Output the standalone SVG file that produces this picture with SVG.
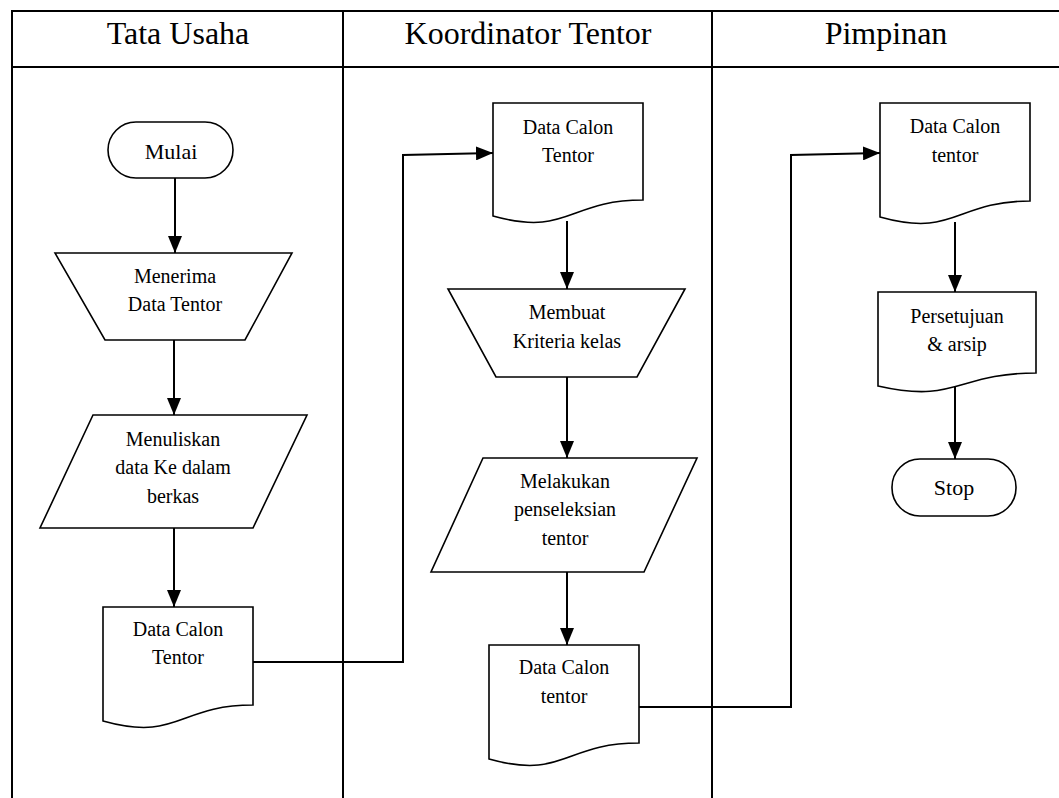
<svg xmlns="http://www.w3.org/2000/svg" width="1059" height="798" viewBox="0 0 1059 798">
<defs>
<marker id="ah" markerUnits="userSpaceOnUse" markerWidth="18" markerHeight="14" refX="17" refY="7" orient="auto">
<path d="M0,0 L17,7 L0,14 Z" fill="#000"/>
</marker>
<style>
.tbl{stroke:#000;stroke-width:2;fill:none}
.shape{fill:#fff;stroke:#000;stroke-width:1.6;stroke-linejoin:miter}
.conn{fill:none;stroke:#000;stroke-width:2;marker-end:url(#ah)}
.hd{font-family:"Liberation Serif","Times New Roman",serif;font-size:32px;text-anchor:middle;fill:#000}
.tx{font-family:"Liberation Serif","Times New Roman",serif;font-size:20px;text-anchor:middle;fill:#000}
.tt{font-family:"Liberation Serif","Times New Roman",serif;font-size:22px;text-anchor:middle;fill:#000}
</style>
</defs>
<rect width="1059" height="798" fill="#fff"/>
<g id="table">
<line class="tbl" x1="12" y1="11" x2="1059" y2="11"/>
<line class="tbl" x1="12" y1="67" x2="1059" y2="67"/>
<line class="tbl" x1="12" y1="10" x2="12" y2="798"/>
<line class="tbl" x1="343" y1="11" x2="343" y2="798"/>
<line class="tbl" x1="712" y1="11" x2="712" y2="798"/>
<text class="hd" x="178" y="44">Tata Usaha</text>
<text class="hd" x="528" y="44">Koordinator Tentor</text>
<text class="hd" x="886" y="44">Pimpinan</text>
</g>
<g id="connectors">
<line class="conn" x1="175" y1="178" x2="175" y2="253"/>
<line class="conn" x1="174" y1="340" x2="174" y2="415"/>
<line class="conn" x1="174" y1="528" x2="174" y2="607"/>
<path class="conn" d="M253,662 H403 V155 L493,153"/>
<line class="conn" x1="567" y1="221" x2="567" y2="289"/>
<line class="conn" x1="567" y1="377" x2="567" y2="458"/>
<line class="conn" x1="567" y1="572" x2="567" y2="645"/>
<path class="conn" d="M639,707 H791 V155 L880,153"/>
<line class="conn" x1="955" y1="222" x2="955" y2="292"/>
<line class="conn" x1="955" y1="383" x2="955" y2="459"/>
</g>
<g id="mulai">
<rect class="shape" x="108" y="122" width="125" height="56" rx="28" ry="28"/>
<text class="tt" x="171" y="159">Mulai</text>
</g>
<g id="menerima">
<polygon class="shape" points="55,253 292,253 245,340 105,340"/>
<text class="tx" x="175" y="283">Menerima</text>
<text class="tx" x="175" y="311">Data Tentor</text>
</g>
<g id="menuliskan">
<polygon class="shape" points="93,415 307,415 253,528 40,528"/>
<text class="tx" x="173" y="446">Menuliskan</text>
<text class="tx" x="173" y="474">data Ke dalam</text>
<text class="tx" x="173" y="503">berkas</text>
</g>
<g id="doc-tu">
<path class="shape" d="M103,607 H253 V705 C178,705 178,742 103,721 Z"/>
<text class="tx" x="178" y="636">Data Calon</text>
<text class="tx" x="178" y="664">Tentor</text>
</g>
<g id="doc-kt1">
<path class="shape" d="M493,103 H643 V200 C568,200 568,237 493,216 Z"/>
<text class="tx" x="568" y="134">Data Calon</text>
<text class="tx" x="568" y="162">Tentor</text>
</g>
<g id="kriteria">
<polygon class="shape" points="448,289 685,289 637,377 496,377"/>
<text class="tx" x="567" y="319">Membuat</text>
<text class="tx" x="567" y="348">Kriteria kelas</text>
</g>
<g id="seleksi">
<polygon class="shape" points="483,458 697,458 644,572 431,572"/>
<text class="tx" x="565" y="488">Melakukan</text>
<text class="tx" x="565" y="516">penseleksian</text>
<text class="tx" x="565" y="545">tentor</text>
</g>
<g id="doc-kt2">
<path class="shape" d="M489,645 H639 V743 C564,743 564,780 489,759 Z"/>
<text class="tx" x="564" y="674">Data Calon</text>
<text class="tx" x="564" y="703">tentor</text>
</g>
<g id="doc-p1">
<path class="shape" d="M880,103 H1030 V201 C955,201 955,238 880,217 Z"/>
<text class="tx" x="955" y="133">Data Calon</text>
<text class="tx" x="955" y="162">tentor</text>
</g>
<g id="doc-p2">
<path class="shape" d="M878,292 H1036 V373 C957,373 957,404 878,386 Z"/>
<text class="tx" x="957" y="323">Persetujuan</text>
<text class="tx" x="957" y="351">&amp; arsip</text>
</g>
<g id="stop">
<rect class="shape" x="892" y="459" width="124" height="57" rx="28" ry="28"/>
<text class="tt" x="954" y="495">Stop</text>
</g>
</svg>
